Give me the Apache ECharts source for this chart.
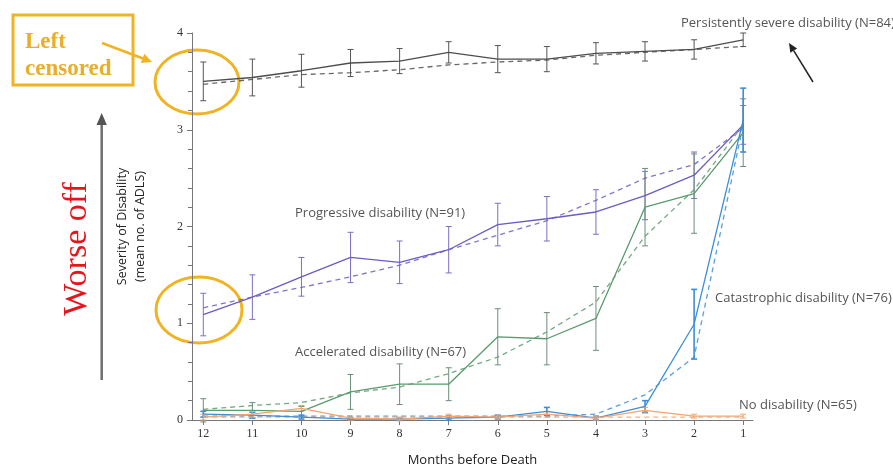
<!DOCTYPE html>
<html><head><meta charset="utf-8">
<script src="https://cdn.jsdelivr.net/npm/echarts@6/dist/echarts.min.js"></script>
<style>html,body{margin:0;padding:0;background:#fff}#c{width:893px;height:466px}</style>
</head><body><div id="c"></div>
<script>
// Months before death (x categories, shown right-to-left as 12 ... 1)
const months = [12, 11, 10, 9, 8, 7, 6, 5, 4, 3, 2, 1];
const yTicks = [0, 1, 2, 3, 4];

// Persistently severe disability (N=84)
const severeObs = [3.50, 3.54, 3.61, 3.69, 3.71, 3.80, 3.73, 3.73, 3.79, 3.81, 3.83, 3.93];
const severeFit = [3.47, 3.52, 3.57, 3.59, 3.62, 3.67, 3.70, 3.72, 3.77, 3.80, 3.83, 3.86];
const severeErr = [0.20, 0.19, 0.17, 0.14, 0.13, 0.11, 0.14, 0.13, 0.11, 0.10, 0.10, 0.07];

// Progressive disability (N=91)
const progObs = [1.09, 1.27, 1.48, 1.68, 1.63, 1.76, 2.02, 2.08, 2.15, 2.32, 2.53, 3.05];
const progFit = [1.16, 1.27, 1.37, 1.48, 1.60, 1.76, 1.91, 2.06, 2.27, 2.50, 2.64, 3.02];
const progErr = [0.22, 0.23, 0.20, 0.26, 0.22, 0.24, 0.22, 0.23, 0.23, 0.25, 0.24, 0.20];

// Accelerated disability (N=67)
const accObs = [0.10, 0.10, 0.09, 0.29, 0.37, 0.37, 0.86, 0.84, 1.05, 2.20, 2.34, 2.97];
const accFit = [0.11, 0.15, 0.18, 0.28, 0.34, 0.48, 0.65, 0.91, 1.22, 1.90, 2.38, 3.05];
const accErr = [0.12, 0.08, 0.05, 0.18, 0.21, 0.17, 0.29, 0.27, 0.33, 0.40, 0.41, 0.35];

// Catastrophic disability (N=76)
const catObs = [0.06, 0.05, 0.03, 0.01, 0.01, 0.02, 0.03, 0.09, 0.02, 0.14, 0.99, 3.10];
const catFit = [0.04, 0.04, 0.04, 0.04, 0.04, 0.04, 0.04, 0.04, 0.06, 0.26, 0.65, 3.05];
const catErr = [0.03, 0.03, 0.02, 0.01, 0.01, 0.02, 0.02, 0.04, 0.02, 0.06, 0.36, 0.33];

// No disability (N=65)
const noneObs = [0.03, 0.06, 0.12, 0.02, 0.01, 0.04, 0.03, 0.06, 0.02, 0.10, 0.04, 0.04];
const noneFit = [0.03, 0.03, 0.03, 0.03, 0.03, 0.03, 0.03, 0.03, 0.03, 0.03, 0.03, 0.03];
const noneErr = [0.03, 0.03, 0.03, 0.02, 0.02, 0.02, 0.02, 0.03, 0.02, 0.03, 0.02, 0.02];

const groups = [
  {name: 'Persistently severe', obs: severeObs, fit: severeFit, err: severeErr, color: '#4d4d4d', errColor: '#555555', errWidth: 1},
  {name: 'Progressive', obs: progObs, fit: progFit, err: progErr, color: '#6a5cc4', errColor: '#7a70c2', errWidth: 1},
  {name: 'Accelerated', obs: accObs, fit: accFit, err: accErr, color: '#5a9a6e', errColor: '#6c8f7a', errWidth: 1},
  {name: 'Catastrophic', obs: catObs, fit: catFit, err: catErr, color: '#3d8ed8', errColor: '#3d8ed8', errWidth: 1.6},
  {name: 'No disability', obs: noneObs, fit: noneFit, err: noneErr, color: '#f2a472', errColor: '#f2a472', errWidth: 1}
];

const GOLD = '#F0B323';
const chart = echarts.init(document.getElementById('c'), null, {renderer: 'canvas'});

function errRender(color, width) {
  return function (params, api) {
    const x = api.value(0);
    const lo = api.coord([x, api.value(1)]);
    const hi = api.coord([x, api.value(2)]);
    const c = 3;
    const st = {stroke: color, lineWidth: width};
    return {type: 'group', children: [
      {type: 'line', shape: {x1: lo[0], y1: lo[1], x2: hi[0], y2: hi[1]}, style: st},
      {type: 'line', shape: {x1: lo[0] - c, y1: lo[1], x2: lo[0] + c, y2: lo[1]}, style: st},
      {type: 'line', shape: {x1: hi[0] - c, y1: hi[1], x2: hi[0] + c, y2: hi[1]}, style: st}
    ]};
  };
}

const series = [];
groups.forEach(g => {
  series.push({
    type: 'custom', name: g.name + ' err', renderItem: errRender(g.errColor, g.errWidth),
    data: months.map((m, i) => [m, g.obs[i] - g.err[i], g.obs[i] + g.err[i]]),
    encode: {x: 0, y: [1, 2]}, silent: true, z: 2
  });
  series.push({
    type: 'line', name: g.name + ' fit', data: months.map((m, i) => [m, g.fit[i]]),
    symbol: 'none', lineStyle: {color: g.color, width: 1.3, type: [5, 4], opacity: 0.85}, z: 3
  });
  series.push({
    type: 'line', name: g.name, data: months.map((m, i) => [m, g.obs[i]]),
    symbol: 'none', lineStyle: {color: g.color, width: 1.3}, z: 4
  });
});

const labelFont = '13px "Open Sans", sans-serif';
const labelColor = '#555';

chart.setOption({
  backgroundColor: '#ffffff',
  animation: false,
  grid: {left: 192, right: 140, top: 33, bottom: 46, containLabel: false, outerBoundsMode: 'none'},
  xAxis: {
    type: 'value', inverse: true, min: 0.8, max: 12.23,
    name: 'Months before Death', nameLocation: 'middle', nameGap: 34,
    nameTextStyle: {fontFamily: 'Open Sans', fontSize: 13, color: '#222'},
    axisLine: {lineStyle: {color: '#777', width: 1}},
    axisTick: {customValues: months, length: 5, lineStyle: {color: '#777'}},
    axisLabel: {customValues: months, fontFamily: 'Liberation Serif', fontSize: 12, color: '#333', margin: 8},
    splitLine: {show: false}
  },
  yAxis: {
    type: 'value', min: 0, max: 4, interval: 1,
    name: 'Severity of Disability\n(mean no. of ADLS)', nameLocation: 'middle', nameGap: 43,
    nameTextStyle: {fontFamily: 'Open Sans', fontSize: 12.5, color: '#222', lineHeight: 18, align: 'center'},
    axisLine: {show: true, lineStyle: {color: '#777', width: 1}},
    axisTick: {show: true, length: 5, lineStyle: {color: '#777'}},
    minorTick: {show: true, splitNumber: 5, length: 4, lineStyle: {color: '#777'}},
    axisLabel: {fontFamily: 'Liberation Serif', fontSize: 12, color: '#333', margin: 9,
      customValues: yTicks},
    splitLine: {show: false}
  },
  series: series,
  graphic: [
    {type: 'rect', shape: {x: 13, y: 15, width: 120, height: 70}, style: {fill: 'none', stroke: GOLD, lineWidth: 3}},
    {type: 'text', x: 25, y: 42, style: {text: 'Left', font: 'bold 23px "Liberation Serif", serif', fill: '#E9AE2A', verticalAlign: 'middle'}},
    {type: 'text', x: 25, y: 69, style: {text: 'censored', font: 'bold 23px "Liberation Serif", serif', fill: '#E9AE2A', verticalAlign: 'middle'}},
    {type: 'line', shape: {x1: 102, y1: 43, x2: 143, y2: 58.5}, style: {stroke: GOLD, lineWidth: 2.5}},
    {type: 'polygon', shape: {points: [[152, 62], [140.8, 63.1], [144.4, 53.7]]}, style: {fill: GOLD}},
    {type: 'ellipse', shape: {cx: 197, cy: 82, rx: 42, ry: 32}, style: {fill: 'none', stroke: GOLD, lineWidth: 3}},
    {type: 'ellipse', shape: {cx: 199, cy: 310, rx: 43, ry: 33}, style: {fill: 'none', stroke: GOLD, lineWidth: 3}},
    {type: 'line', shape: {x1: 101.7, y1: 380, x2: 101.7, y2: 122}, style: {stroke: '#6e6e6e', lineWidth: 2.5}},
    {type: 'polygon', shape: {points: [[101.7, 113], [96.5, 125], [106.9, 125]]}, style: {fill: '#555'}},
    {type: 'text', x: 77, y: 249, rotation: Math.PI / 2, style: {text: 'Worse off', font: '34px "Liberation Serif", serif', fill: '#E8141B', align: 'center', verticalAlign: 'middle'}},
    {type: 'text', x: 681, y: 23, style: {text: 'Persistently severe disability (N=84)', font: labelFont, fill: labelColor, verticalAlign: 'middle'}},
    {type: 'line', shape: {x1: 813, y1: 82, x2: 793.7, y2: 50.7}, style: {stroke: '#222', lineWidth: 1.5}},
    {type: 'polygon', shape: {points: [[789, 43], [797.1, 48.6], [790.3, 52.8]]}, style: {fill: '#222'}},
    {type: 'text', x: 295, y: 213, style: {text: 'Progressive disability (N=91)', font: labelFont, fill: labelColor, verticalAlign: 'middle'}},
    {type: 'text', x: 295, y: 352, style: {text: 'Accelerated disability (N=67)', font: labelFont, fill: labelColor, verticalAlign: 'middle'}},
    {type: 'text', x: 715, y: 298, style: {text: 'Catastrophic disability (N=76)', font: labelFont, fill: labelColor, verticalAlign: 'middle'}},
    {type: 'text', x: 739, y: 405, style: {text: 'No disability (N=65)', font: labelFont, fill: labelColor, verticalAlign: 'middle'}}
  ]
});
</script></body></html>
